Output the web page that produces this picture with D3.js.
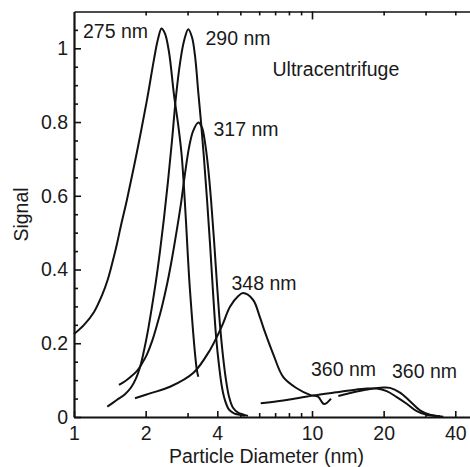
<!DOCTYPE html>
<html>
<head>
<meta charset="utf-8">
<script src="https://cdn.jsdelivr.net/npm/d3@7"></script>
<style>
  body { margin: 0; background: #fff; }
  text { font-family: "Liberation Sans", Arial, Helvetica, sans-serif; fill: #1a1a1a; }
</style>
</head>
<body>
<script>
// tick values
var xMajorTicks = [1, 2, 4, 10, 20, 40];
var xMinorTicks = [3, 5, 6, 7, 8, 9, 30];
var yMajorTicks = [0, 0.2, 0.4, 0.6, 0.8, 1];
var yMinorTicks = [0.05, 0.1, 0.15, 0.25, 0.3, 0.35, 0.45, 0.5, 0.55, 0.65, 0.7, 0.75, 0.85, 0.9, 0.95, 1.05];

// curves, [diameter nm, signal]
var s275 = [[1.0, 0.225], [1.102, 0.25], [1.214, 0.285], [1.311, 0.33], [1.390, 0.375],
  [1.458, 0.425], [1.516, 0.47], [1.576, 0.52], [1.670, 0.59], [1.840, 0.72],
  [2.026, 0.86], [2.168, 0.97], [2.254, 1.025], [2.332, 1.054], [2.412, 1.04],
  [2.507, 0.99], [2.632, 0.873], [2.743, 0.79], [2.834, 0.71], [2.899, 0.62],
  [2.955, 0.53], [3.071, 0.344], [3.278, 0.13], [3.329, 0.109]];

var s290 = [[1.380, 0.028], [1.512, 0.046], [1.638, 0.062], [1.736, 0.08], [1.822, 0.105],
  [1.894, 0.135], [1.968, 0.18], [2.046, 0.235], [2.127, 0.3], [2.211, 0.37],
  [2.298, 0.45], [2.389, 0.54], [2.483, 0.64], [2.581, 0.75], [2.683, 0.87],
  [2.789, 0.96], [2.899, 1.02], [3.021, 1.052], [3.132, 1.03], [3.224, 0.98],
  [3.329, 0.88], [3.417, 0.8], [3.518, 0.7], [3.622, 0.59], [3.728, 0.47],
  [3.837, 0.34], [3.951, 0.22], [4.067, 0.14], [4.187, 0.08], [4.311, 0.045],
  [4.481, 0.02], [4.702, 0.01], [4.984, 0.006], [5.231, 0.003]];

var s317 = [[1.545, 0.087], [1.638, 0.097], [1.736, 0.11], [1.840, 0.125], [1.930, 0.145],
  [2.026, 0.17], [2.127, 0.205], [2.233, 0.25], [2.343, 0.3], [2.460, 0.36],
  [2.581, 0.43], [2.709, 0.51], [2.817, 0.58], [2.927, 0.66], [3.041, 0.73],
  [3.162, 0.775], [3.329, 0.799], [3.451, 0.785], [3.551, 0.745], [3.656, 0.68],
  [3.764, 0.59], [3.875, 0.48], [3.989, 0.36], [4.106, 0.25], [4.227, 0.165],
  [4.352, 0.1], [4.481, 0.055], [4.657, 0.025], [4.889, 0.012], [5.130, 0.007],
  [5.383, 0.003]];

var s348 = [[1.804, 0.051], [2.086, 0.064], [2.532, 0.082], [3.177, 0.12], [3.728, 0.182],
  [4.174, 0.245], [4.523, 0.299], [4.901, 0.328], [5.130, 0.336], [5.651, 0.318],
  [6.045, 0.27], [6.345, 0.23], [6.877, 0.17], [7.575, 0.108], [8.625, 0.078],
  [9.808, 0.06], [10.60, 0.055], [11.23, 0.035], [12.02, 0.05]];

var s360a = [[6.087, 0.037], [7.575, 0.045], [8.904, 0.052], [10.07, 0.058], [12.29, 0.066],
  [14.44, 0.072], [16.98, 0.077], [18.70, 0.077], [20.60, 0.07], [22.70, 0.054],
  [25.00, 0.036], [27.54, 0.016], [30.34, 0.006], [34.50, 0.002]];

var s360b = [[12.90, 0.057], [15.41, 0.069], [17.53, 0.076], [19.94, 0.08], [21.27, 0.079],
  [23.43, 0.066], [25.81, 0.043], [28.43, 0.018], [31.31, 0.006], [35.62, 0.001]];

var svgWidth = 470;
var svgHeight = 467;
var left = 74, bottom = 417;
var decade = 238;       // px per decade on the log axis
var unitY = 368.7;      // px per 1.0 of signal

var svg = d3.select("body")
  .append("svg")
  .attr("width", svgWidth)
  .attr("height", svgHeight)
  .style("background", "#fff");

var x = d3.scaleLog()
  .domain([1, 50])
  .range([left, left + decade * Math.log10(50)]);

var y = d3.scaleLinear()
  .domain([0, 1.1])
  .range([bottom, bottom - 1.1 * unitY]);

var fontSize = "19.5px";

// bottom axis
var gX = svg.append("g")
  .attr("transform", "translate(0," + bottom + ")")
  .call(d3.axisBottom(x).tickValues(xMajorTicks).tickFormat(function(d) { return d; })
    .tickSizeInner(-6).tickSizeOuter(0).tickPadding(9));
svg.append("g")
  .attr("transform", "translate(0," + bottom + ")")
  .call(d3.axisBottom(x).tickValues(xMinorTicks).tickFormat("")
    .tickSizeInner(-4).tickSizeOuter(0))
  .select(".domain").remove();

// top axis (no labels)
var topY = y(1.1);
var gTop = svg.append("g")
  .attr("transform", "translate(0," + topY + ")")
  .call(d3.axisTop(x).tickValues([2, 3, 4, 5, 6, 7, 8, 9, 20, 30, 40]).tickFormat("")
    .tickSizeInner(-4).tickSizeOuter(0));
svg.append("g")
  .attr("transform", "translate(0," + topY + ")")
  .call(d3.axisTop(x).tickValues([10]).tickFormat("").tickSizeInner(-8).tickSizeOuter(0))
  .select(".domain").remove();

// left axis
var gY = svg.append("g")
  .attr("transform", "translate(" + left + ",0)")
  .call(d3.axisLeft(y).tickValues(yMajorTicks).tickFormat(function(d) { return d; })
    .tickSizeInner(-7).tickSizeOuter(0).tickPadding(6));
svg.append("g")
  .attr("transform", "translate(" + left + ",0)")
  .call(d3.axisLeft(y).tickValues(yMinorTicks).tickFormat("")
    .tickSizeInner(-4).tickSizeOuter(0))
  .select(".domain").remove();

svg.selectAll(".tick line").attr("stroke", "#111").attr("stroke-width", 1.6);
svg.selectAll(".domain").attr("stroke", "#111").attr("stroke-width", 2.2);
gTop.select(".domain").attr("stroke-width", 1.6);
svg.selectAll(".tick text")
  .attr("fill", "#1a1a1a")
  .style("font-size", fontSize)
  .style("font-family", "'Liberation Sans', Arial, Helvetica, sans-serif");

// curves
var line = d3.line()
  .x(function(d) { return x(d[0]); })
  .y(function(d) { return y(d[1]); })
  .curve(d3.curveCatmullRom.alpha(0.5));

[s275, s290, s317, s348, s360a, s360b].forEach(function(s) {
  svg.append("path")
    .datum(s)
    .attr("fill", "none")
    .attr("stroke", "#111")
    .attr("stroke-width", 2)
    .attr("stroke-linejoin", "round")
    .attr("d", line);
});

// annotations
var notes = [
  {t: "275 nm", px: 83, py: 38},
  {t: "290 nm", px: 205.5, py: 44.5},
  {t: "317 nm", px: 213.5, py: 136},
  {t: "Ultracentrifuge", px: 272.5, py: 76},
  {t: "348 nm", px: 231.5, py: 290},
  {t: "360 nm", px: 311, py: 376},
  {t: "360 nm", px: 392, py: 377.5}
];
svg.selectAll(".note")
  .data(notes)
  .enter().append("text")
  .attr("class", "note")
  .attr("x", function(d) { return d.px; })
  .attr("y", function(d) { return d.py; })
  .style("font-size", fontSize)
  .text(function(d) { return d.t; });

// axis titles
svg.append("text")
  .attr("x", 266.5)
  .attr("y", 463)
  .attr("text-anchor", "middle")
  .style("font-size", fontSize)
  .text("Particle Diameter (nm)");

svg.append("text")
  .attr("transform", "translate(28,214.5) rotate(-90)")
  .attr("text-anchor", "middle")
  .style("font-size", fontSize)
  .text("Signal");
</script>
</body>
</html>
